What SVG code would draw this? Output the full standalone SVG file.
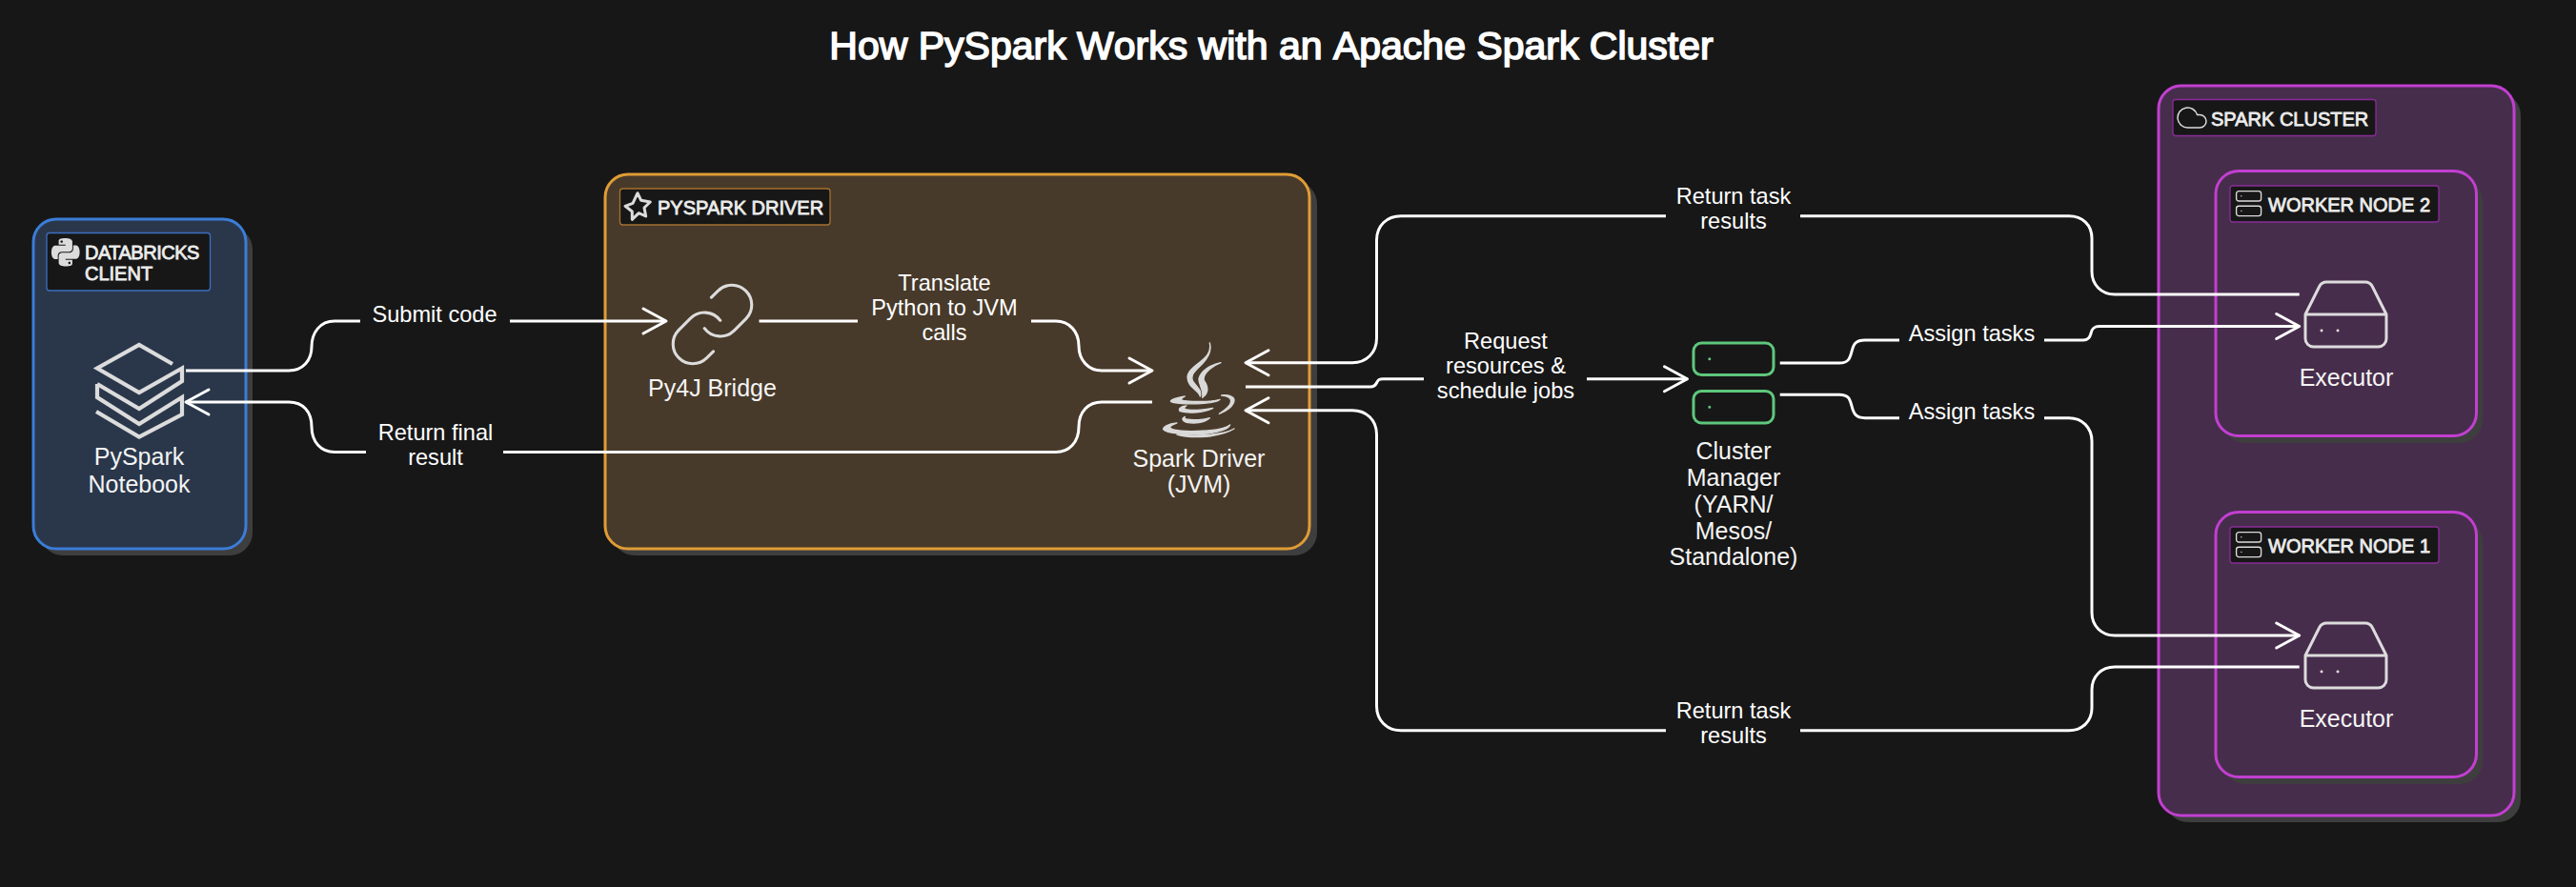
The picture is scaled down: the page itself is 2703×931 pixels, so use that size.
<svg xmlns="http://www.w3.org/2000/svg" width="2703" height="931" viewBox="0 0 2703 931">
<style>
text{font-family:"Liberation Sans",Arial,sans-serif;text-anchor:middle;fill:#f4f4f4}
.title{font-size:41px;font-kerning:none;fill:#fff;stroke:#fff;stroke-width:1.6px}
.cap{font-size:20px;text-anchor:start;fill:#ececec;stroke:#ececec;stroke-width:.8px}
.lbl{font-size:25px}
.edge{font-size:23.6px;fill:#fff}
.shadow{fill:#3e3e3e}
.blue{fill:#2a374b;stroke:#3b7dd8;stroke-width:3}
.orange{fill:#483a2a;stroke:#e09c36;stroke-width:3}
.purple{fill:#472d4c;stroke:#c23fd1;stroke-width:3}
.capbox{fill:#171717;stroke-width:1.3}
.ic{fill:none;stroke:#dcdcdc;stroke-linecap:round;stroke-linejoin:round}
.conn{fill:none;stroke:#fff;stroke-width:3}
</style>
<defs>
<marker id="arrow" markerUnits="userSpaceOnUse" viewBox="-27 -16 30 32" refX="0" refY="0" markerWidth="30" markerHeight="32" orient="auto">
<path d="M-24 -13Q-11 -6 0 0Q-11 6 -24 13" fill="none" stroke="#fff" stroke-width="3" stroke-linecap="round" stroke-linejoin="round"/>
</marker>
<g id="server">
<rect x="2" y="2" width="20" height="8" rx="2"/><rect x="2" y="14" width="20" height="8" rx="2"/>
<path d="M6 6h.01M6 18h.01"/>
</g>
<g id="drive">
<path d="M22 12H2M5.45 5.11 2 12v6a2 2 0 0 0 2 2h16a2 2 0 0 0 2-2v-6l-3.45-6.89A2 2 0 0 0 16.76 4H7.24a2 2 0 0 0-1.79 1.11zM6 16h.01M10 16h.01"/>
</g>
</defs>
<rect width="2703" height="931" fill="#171717"/>
<text class="title" x="1334" y="62">How PySpark Works with an Apache Spark Cluster</text>

<g id="client">
<rect class="shadow" x="42" y="238" width="223" height="345" rx="24"/>
<rect class="blue" x="35" y="230" width="223" height="346" rx="24"/>
<rect class="capbox" x="49" y="244.500" width="171.500" height="60.500" rx="3" stroke="#3b6fc0"/>
<path transform="translate(54 250) scale(1.23)" fill="#dcdcdc" fill-rule="evenodd" d="M14.25.18l.9.2.73.26.59.3.45.32.34.34.25.34.16.33.1.3.04.26.02.2-.01.13V8.5l-.05.63-.13.55-.21.46-.26.38-.3.31-.33.25-.35.19-.35.14-.33.1-.3.07-.26.04-.21.02H8.77l-.69.05-.59.14-.5.22-.41.27-.33.32-.27.35-.2.36-.15.37-.1.35-.07.32-.04.27-.02.21v3.06H3.17l-.21-.03-.28-.07-.32-.12-.35-.18-.36-.26-.36-.36-.35-.46-.32-.59-.28-.73-.21-.88-.14-1.05-.05-1.23.06-1.22.16-1.04.24-.87.32-.71.36-.57.4-.44.42-.33.42-.24.4-.16.36-.1.32-.05.24-.01h.16l.06.01h8.16v-.83H6.18l-.01-2.75-.02-.37.05-.34.11-.31.17-.28.25-.26.31-.23.38-.2.44-.18.51-.15.58-.12.64-.1.71-.06.77-.04.84-.02 1.27.05zm-6.3 1.98l-.23.33-.08.41.08.41.23.34.33.22.41.09.41-.09.33-.22.23-.34.08-.41-.08-.41-.23-.33-.33-.22-.41-.09-.41.09zm13.09 3.95l.28.06.32.12.35.18.36.27.36.35.35.47.32.59.28.73.21.88.14 1.04.05 1.23-.06 1.23-.16 1.04-.24.86-.32.71-.36.57-.4.45-.42.33-.42.24-.4.16-.36.09-.32.05-.24.02-.16-.01h-8.22v.82h5.84l.01 2.76.02.36-.05.34-.11.31-.17.29-.25.25-.31.24-.38.2-.44.17-.51.15-.58.13-.64.09-.71.07-.77.04-.84.01-1.27-.04-1.07-.14-.9-.2-.73-.25-.59-.3-.45-.33-.34-.34-.25-.34-.16-.33-.1-.3-.04-.25-.02-.2.01-.13v-5.34l.05-.64.13-.54.21-.46.26-.38.3-.32.33-.24.35-.2.35-.14.33-.1.3-.06.26-.04.21-.02.13-.01h5.84l.69-.05.59-.14.5-.21.41-.28.33-.32.27-.35.2-.36.15-.36.1-.35.07-.32.04-.28.02-.21V6.07h2.09l.14.01zm-6.47 14.25l-.23.33-.08.41.08.41.23.33.33.23.41.08.41-.08.33-.23.23-.33.08-.41-.08-.41-.23-.33-.33-.23-.41-.08-.41.08z"/>
<text class="cap" x="89" y="272" letter-spacing="-.5">DATABRICKS</text>
<text class="cap" x="89" y="294">CLIENT</text>
</g>
<g id="notebook">
<path class="ic" style="stroke-linecap:butt;stroke-linejoin:miter" stroke-width="4.200" d="M181 382L146 362L102 386.500L146 412L191 386.500V400L146 429L102 403M102 403V417L146 445L191 417V435L146 458.500L101 432"/>
<text class="lbl" x="146" y="488">PySpark</text>
<text class="lbl" x="146" y="516.500">Notebook</text>
</g>

<g id="driver-box">
<rect class="shadow" x="642" y="190" width="740" height="393" rx="24"/>
<rect class="orange" x="635" y="183" width="739" height="393" rx="24"/>
<rect class="capbox" x="650.500" y="198" width="220.500" height="38" rx="3" stroke="#a5722f"/>
<path class="ic" stroke-width="3" d="M669 202.700L672.700 210.300L682.300 212L676 218L677.700 227L670.300 223.700L663.300 230.300L663.300 222L656 216.300L664 213.300Z"/>
<text class="cap" x="690" y="225">PYSPARK DRIVER</text>
</g>
<g id="py4j">
<path class="ic" transform="translate(697.700 290.700) scale(4.150)" stroke-width=".75" d="M10 13a5 5 0 0 0 7.540.54l3-3a5 5 0 0 0-7.070-7.070l-1.720 1.710M14 11a5 5 0 0 0-7.540-.54l-3 3a5 5 0 0 0 7.070 7.070l1.710-1.710"/>
<text class="lbl" x="747.500" y="416">Py4J Bridge</text>
</g>
<g id="spark-driver">
<g transform="translate(1180 340) scale(.33333)" fill="#d9d9d9" stroke="#d9d9d9" stroke-width="4" stroke-linejoin="round">
<path d="M268 60C275 95 250 110 225 130C200 150 190 165 205 190C215 205 235 215 238 228C245 210 225 195 215 180C205 160 225 145 245 125C265 105 275 85 268 60Z"/>
<path d="M303 122C270 128 240 148 234 172C232 192 250 205 245 232C268 215 262 195 250 178C245 160 270 135 303 122Z"/>
<path d="M190 228C165 232 148 238 145 243C150 250 200 254 250 250C275 248 295 244 300 238C285 243 250 245 215 244C185 243 165 241 190 228Z"/>
<path d="M305 225C330 222 345 230 345 240C345 258 320 275 298 283C318 270 335 255 335 243C335 232 320 226 305 225Z"/>
<path d="M195 258C175 260 168 268 175 275C200 282 250 280 278 265C250 272 205 274 190 268C187 264 190 260 195 258Z"/>
<path d="M190 292C178 298 182 305 195 310C220 315 250 312 268 296C250 302 215 304 195 300C188 298 188 295 190 292Z"/>
<path d="M165 312C135 315 120 325 122 332C130 345 200 350 260 345C295 342 328 330 332 318C315 330 270 338 210 338C165 338 135 332 145 322C150 318 158 315 165 312Z"/>
<path d="M165 348C210 362 300 358 345 330C310 350 230 354 165 348Z"/>
</g>
<text class="lbl" x="1258" y="489.500">Spark Driver</text>
<text class="lbl" x="1258" y="517">(JVM)</text>
</g>

<g id="cluster-manager">
<use href="#server" class="ic" transform="translate(1768.600 351.600) scale(4.200)" style="stroke:#5ec77c" stroke-width=".72"/>
<text class="lbl" x="1819" y="482">Cluster</text>
<text class="lbl" x="1819" y="509.500">Manager</text>
<text class="lbl" x="1819" y="537.500">(YARN/</text>
<text class="lbl" x="1819" y="565.500">Mesos/</text>
<text class="lbl" x="1819" y="593">Standalone)</text>
</g>

<g id="spark-cluster">
<rect class="shadow" x="2272" y="97" width="373" height="766" rx="24"/>
<rect class="purple" x="2265" y="90" width="373" height="766" rx="24"/>
<rect class="capbox" x="2280" y="104.500" width="213" height="38" rx="3" stroke="#8a2c98"/>
<path class="ic" transform="translate(2282 105.500) scale(1.500)" stroke-width="1" d="M17.500 19H9a7 7 0 1 1 6.710-9h1.790a4.500 4.500 0 1 1 0 9Z"/>
<text class="cap" x="2320" y="131.500">SPARK CLUSTER</text>
</g>
<g id="worker-2">
<rect class="shadow" x="2332" y="187" width="273" height="278" rx="24"/>
<rect class="purple" x="2325" y="179.500" width="273.500" height="278" rx="24"/>
<rect class="capbox" x="2340" y="195" width="219" height="38" rx="3" stroke="#8a2c98"/>
<use href="#server" class="ic" transform="translate(2344 198) scale(1.300)" stroke-width="1.050"/>
<text class="cap" x="2380" y="222">WORKER NODE 2</text>
</g>
<g id="executor-2">
<use href="#drive" class="ic" transform="translate(2410.500 279) scale(4.250)" stroke-width=".7"/>
<text class="lbl" x="2462" y="404.500">Executor</text>
</g>
<g id="worker-1">
<rect class="shadow" x="2332" y="545" width="273" height="278" rx="24"/>
<rect class="purple" x="2325" y="537.500" width="273.500" height="278" rx="24"/>
<rect class="capbox" x="2340" y="553" width="219" height="38" rx="3" stroke="#8a2c98"/>
<use href="#server" class="ic" transform="translate(2344 556) scale(1.300)" stroke-width="1.050"/>
<text class="cap" x="2380" y="580">WORKER NODE 1</text>
</g>
<g id="executor-1">
<use href="#drive" class="ic" transform="translate(2410.500 637) scale(4.250)" stroke-width=".7"/>
<text class="lbl" x="2462" y="762.500">Executor</text>
</g>

<g id="connectors">
<path class="conn" marker-end="url(#arrow)" d="M195 389H303C318 389 327 378 327 364C327 349 336 337 351 337H378M535 337H699"/>
<path class="conn" marker-end="url(#arrow)" d="M796.500 337H900M1082 337H1108C1122 337 1132 348 1132 363C1132 378 1142 389 1156 389H1209"/>
<path class="conn" marker-end="url(#arrow)" d="M1209 422H1156C1142 422 1132 432 1132 448C1132 464 1122 474.500 1108 474.500H528M384 474.500H351C337 474.500 327 464 327 448C327 432 318 422 303 422H195"/>
<path class="conn" marker-end="url(#arrow)" d="M1307 406H1438C1443 406 1444 403 1445 401C1446 398.500 1447 397.700 1451 397.700H1494M1665 397.700H1770.500"/>
<path class="conn" marker-end="url(#arrow)" d="M1867.700 381H1930C1940 381 1941 376 1943 369C1945 361 1947 357 1957 357H1993M2145 357H2186C2192 357 2193 353 2194 350C2195 345 2197 342.500 2203 342.500H2412.700"/>
<path class="conn" marker-end="url(#arrow)" d="M1867.700 414.300H1930C1940 414.300 1941 419 1943 426C1945 434 1947 438.700 1957 438.700H1993M2145 438.700H2171C2185 438.700 2195 449 2195 463V643C2195 657 2205 667 2219 667H2412.700"/>
<path class="conn" marker-end="url(#arrow)" d="M2412.700 309H2219C2205 309 2195 299 2195 285V250C2195 236 2185 226.700 2171 226.700H1889M1748 226.700H1470C1455 226.700 1444.500 237 1444.500 252V355C1444.500 370 1434 380.700 1419 380.700H1307"/>
<path class="conn" marker-end="url(#arrow)" d="M2412.700 700H2219C2205 700 2195 710 2195 724V743C2195 757 2185 766.700 2171 766.700H1889M1748 766.700H1470C1455 766.700 1444.500 756 1444.500 741V456C1444.500 441 1434 430.700 1419 430.700H1307"/>
</g>

<g id="connector-labels">
<text class="edge" x="456" y="338">Submit code</text>
<text class="edge" x="457" y="462">Return final</text>
<text class="edge" x="457" y="487.500">result</text>
<text class="edge" x="991" y="304.500">Translate</text>
<text class="edge" x="991" y="331">Python to JVM</text>
<text class="edge" x="991" y="357">calls</text>
<text class="edge" x="1580" y="365.500">Request</text>
<text class="edge" x="1580" y="391.500">resources &amp;</text>
<text class="edge" x="1580" y="417.500">schedule jobs</text>
<text class="edge" x="1819" y="213.500">Return task</text>
<text class="edge" x="1819" y="239.500">results</text>
<text class="edge" x="1819" y="753.500">Return task</text>
<text class="edge" x="1819" y="779.500">results</text>
<text class="edge" x="2069" y="358">Assign tasks</text>
<text class="edge" x="2069" y="440">Assign tasks</text>
</g>
</svg>
